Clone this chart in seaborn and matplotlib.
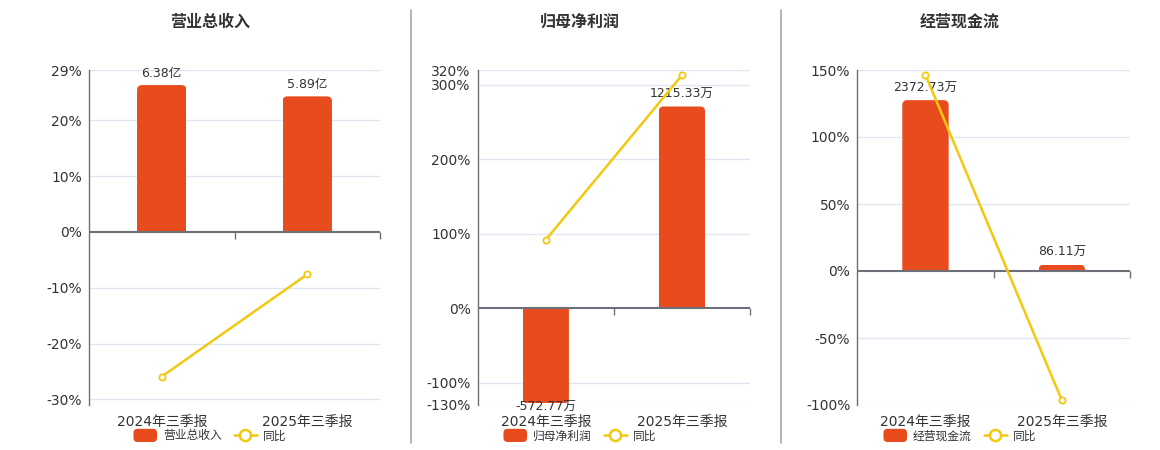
import numpy as np
import pandas as pd
import matplotlib
matplotlib.use("Agg")
import matplotlib.pyplot as plt
import seaborn as sns
from matplotlib.patches import FancyBboxPatch, Patch
from matplotlib.lines import Line2D
from matplotlib.legend_handler import HandlerPatch

# ---------------- data ----------------
categories = ["2024年三季报", "2025年三季报"]

titles = ["营业总收入", "归母净利润", "经营现金流"]
bar_names = ["营业总收入", "归母净利润", "经营现金流"]

revenue = [6.38, 5.89]            # 亿
revenue_labels = ["6.38亿", "5.89亿"]
revenue_yoy = [-25.9, -7.6]       # %

profit = [-572.77, 1215.33]       # 万
profit_labels = ["-572.77万", "1215.33万"]
profit_yoy = [91.9, 313.0]        # %

cash = [2372.73, 86.11]           # 万
cash_labels = ["2372.73万", "86.11万"]
cash_yoy = [146.3, -96.5]         # %

pct_ticks = [[-30, -20, -10, 0, 10, 20, 29],
             [-130, -100, 0, 100, 200, 300, 320],
             [-100, -50, 0, 50, 100, 150]]
pct_limits = [(-31, 29), (-130, 320), (-100, 150)]
# bar-axis units per percent (keeps the zero lines aligned)
bar_scale = [6.38 / 26.3, 1215.33 / 271.0, 2372.73 / 127.5]

# ---------------- style ----------------
BAR_C = "#E84C1E"
LINE_C = "#F2C811"
GRID_C = "#E0E6F1"
AXIS_C = "#6E7079"
TEXT_C = "#333333"

sns.set_theme(style="white")
plt.rcParams["font.family"] = ["DejaVu Sans", "Noto Sans CJK SC"]

W, H = 1160, 450
fig = plt.figure(figsize=(W / 100, H / 100), dpi=100)

panels = [
    dict(left=89, right=380, center=210, bars=revenue, labels=revenue_labels, yoy=revenue_yoy),
    dict(left=477.7, right=750, center=580, bars=profit, labels=profit_labels, yoy=profit_yoy),
    dict(left=857.3, right=1130, center=960, bars=cash, labels=cash_labels, yoy=cash_yoy),
]
top_px, bot_px = 70, 405


class RoundHandler(HandlerPatch):
    def create_artists(self, legend, orig_handle, xdescent, ydescent, width, height, fontsize, trans):
        p = FancyBboxPatch((-xdescent, -ydescent - 1.5), width, height + 3,
                           boxstyle="round,pad=0,rounding_size=3",
                           facecolor=orig_handle.get_facecolor(), edgecolor="none",
                           transform=trans)
        return [p]


for i, p in enumerate(panels):
    lo, hi = pct_limits[i]
    k = bar_scale[i]
    ax = fig.add_axes([p["left"] / W, 1 - bot_px / H,
                       (p["right"] - p["left"]) / W, (bot_px - top_px) / H])
    ax2 = ax.twinx()

    df = pd.DataFrame({"period": categories, "value": p["bars"], "yoy": p["yoy"]})

    # bars on the base axis (behind line)
    sns.barplot(data=df, x="period", y="value", ax=ax, color=BAR_C,
                width=0.34, saturation=1, edgecolor="none", zorder=3)
    ax.set_ylim(lo * k, hi * k)
    ax.set_xlim(-0.5, 1.5)

    # rounded bar ends
    x0d, x1d = ax.get_xlim()
    y0d, y1d = ax.get_ylim()
    ax_w_px = p["right"] - p["left"]
    ax_h_px = bot_px - top_px
    xu = (x1d - x0d) / ax_w_px
    yu = (y1d - y0d) / ax_h_px
    r_px = 5
    for rect, val, lab in zip(list(ax.patches), p["bars"], p["labels"]):
        bx, bw = rect.get_x(), rect.get_width()
        if val >= 0:
            by, bh = -r_px * yu, val + r_px * yu
        else:
            by, bh = val, -val + r_px * yu
        fb = FancyBboxPatch((bx, by), bw, bh,
                            boxstyle=f"round,pad=0,rounding_size={r_px * xu}",
                            mutation_aspect=yu / xu, facecolor=BAR_C,
                            edgecolor="none", zorder=3)
        ax.add_patch(fb)
        fb.set_clip_path(rect)
        rect.set_facecolor("none")
        cx = bx + bw / 2
        if val >= 0:
            ax.annotate(lab, (cx, val), xytext=(0, 4), textcoords="offset points",
                        ha="center", va="bottom", fontsize=9, color=TEXT_C, zorder=6)
        else:
            ax.annotate(lab, (cx, val), xytext=(0, 2), textcoords="offset points",
                        ha="center", va="top", fontsize=9, color=TEXT_C, zorder=6)

    # gridlines on base axis at percentage ticks
    for t in pct_ticks[i]:
        if t != 0:
            ax.axhline(t * k, color=GRID_C, lw=1, zorder=0)
    ax.set_yticks([])
    ax.set_ylabel("")
    ax.set_xlabel("")
    ax.tick_params(axis="x", length=0, pad=7, labelsize=10, labelcolor=TEXT_C)
    for s in ["top", "right", "bottom"]:
        ax.spines[s].set_visible(False)
    ax.spines["left"].set_color(AXIS_C)
    ax.spines["left"].set_linewidth(1)

    # zero line with boundary ticks
    ax.axhline(0, color=AXIS_C, lw=1.5, zorder=4)
    ax.plot([0.5, 1.5], [0, 0], linestyle="none", marker=3, markersize=5,
            markeredgewidth=1, color=AXIS_C, zorder=4, clip_on=False)

    # yoy line on twin axis
    xs = np.arange(len(categories))
    sns.lineplot(x=xs, y=df["yoy"].to_numpy(), ax=ax2, color=LINE_C, lw=1.8,
                 marker="o", markersize=4.5, markerfacecolor="white",
                 markeredgecolor=LINE_C, markeredgewidth=1.3, zorder=5)
    ax2.set_ylim(lo, hi)
    ax2.set_xlim(-0.5, 1.5)
    ax2.yaxis.tick_left()
    ax2.set_yticks(pct_ticks[i])
    ax2.set_yticklabels([f"{t}%" for t in pct_ticks[i]])
    ax2.tick_params(axis="y", length=0, pad=5, labelsize=10, labelcolor=TEXT_C)
    ax2.grid(False)
    for s in ["top", "right", "bottom", "left"]:
        ax2.spines[s].set_visible(False)
    ax2.set_ylabel("")

    # title
    fig.text(p["center"] / W, 1 - 22 / H, titles[i], ha="center", va="center",
             fontsize=11.5, fontweight="bold", color=TEXT_C)

    # legend
    h_bar = Patch(facecolor=BAR_C, label=bar_names[i])
    h_line = Line2D([], [], color=LINE_C, lw=1.8, marker="o", markersize=8,
                    markerfacecolor="white", markeredgecolor=LINE_C,
                    markeredgewidth=1.8, label="同比")
    fig.legend(handles=[h_bar, h_line], loc="center",
               bbox_to_anchor=(p["center"] / W, 1 - 436 / H), ncol=2,
               frameon=False, fontsize=8.5, handlelength=2.0, handleheight=0.8,
               handletextpad=0.5, columnspacing=1.0, borderpad=0,
               labelcolor=TEXT_C, handler_map={Patch: RoundHandler()})

# separators
for xs_px in [410.5, 780.5]:
    fig.add_artist(Line2D([xs_px / W, xs_px / W], [1 - 10 / H, 1 - 443 / H],
                          color="#A8A8A0", lw=1.2))

fig.savefig("out.png", dpi=100)
